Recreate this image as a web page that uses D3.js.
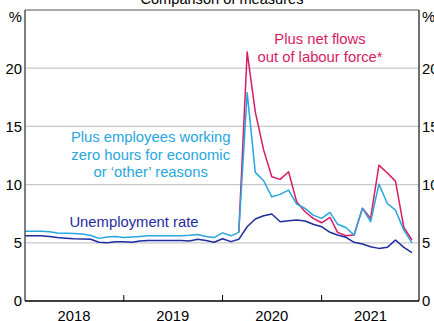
<!DOCTYPE html>
<html><head><meta charset="utf-8">
<script src="https://cdn.jsdelivr.net/npm/d3@7"></script>
<style>
html,body{margin:0;padding:0;background:#fff;}
svg{display:block;font-family:"Liberation Sans",Arial,sans-serif;}
</style></head>
<body><svg id="c" width="434" height="321"></svg>
<script>
const months = ["2018-01","2018-02","2018-03","2018-04","2018-05","2018-06","2018-07","2018-08","2018-09","2018-10","2018-11","2018-12",
"2019-01","2019-02","2019-03","2019-04","2019-05","2019-06","2019-07","2019-08","2019-09","2019-10","2019-11","2019-12",
"2020-01","2020-02","2020-03","2020-04","2020-05","2020-06","2020-07","2020-08","2020-09","2020-10","2020-11","2020-12",
"2021-01","2021-02","2021-03","2021-04","2021-05","2021-06","2021-07","2021-08","2021-09","2021-10","2021-11","2021-12"];
const unemployment = [5.6,5.6,5.6,5.55,5.45,5.4,5.35,5.32,5.3,5.05,5.0,5.1,
5.1,5.05,5.15,5.2,5.2,5.2,5.2,5.2,5.15,5.3,5.2,5.05,
5.35,5.1,5.3,6.38,7.04,7.32,7.47,6.81,6.9,6.95,6.87,6.6,
6.38,5.9,5.67,5.47,5.04,4.89,4.66,4.52,4.61,5.24,4.61,4.15];
const zeroHours = [6.0,6.0,6.0,5.95,5.85,5.82,5.8,5.75,5.62,5.38,5.5,5.55,
5.45,5.5,5.55,5.6,5.6,5.6,5.6,5.6,5.65,5.72,5.55,5.45,
5.85,5.6,5.9,17.9,11.05,10.33,8.95,9.16,9.53,8.33,7.96,7.38,
7.1,7.61,6.6,6.32,5.67,7.96,6.81,10.04,8.38,7.81,6.09,5.0];
const netFlows = [null,null,null,null,null,null,null,null,null,null,null,null,
null,null,null,null,null,null,null,null,null,null,null,null,
null,null,5.9,21.4,16.25,12.96,10.67,10.45,11.1,8.52,7.67,7.1,
6.72,7.18,5.9,5.6,5.67,7.96,7.1,11.67,11.0,10.3,6.32,5.24];
const yTicks = [0,5,10,15,20];
const yearLabels = ["2018","2019","2020","2021"];
const yearBoundaries = ["2019-01-01","2020-01-01","2021-01-01"];

const svg = d3.select("#c");
const L = 25, R = 419, T = 10, B = 301;
const parse = d3.timeParse("%Y-%m");
const dates = months.map(parse);
const x = d3.scaleTime().domain([new Date(2018,0,1), new Date(2021,11,27)]).range([L, R]);
const y = d3.scaleLinear().domain([0,25]).range([B, T]);
const FS = "14.8px";

// gridlines
svg.append("g").selectAll("line").data(yTicks.filter(d=>d>0)).join("line")
  .attr("x1", L).attr("x2", R).attr("y1", d=>y(d)).attr("y2", d=>y(d))
  .attr("stroke", "#c8c8c8").attr("stroke-width", 1.3);

// left/right tick labels
svg.append("g").selectAll("text").data(yTicks).join("text")
  .attr("x", 22).attr("y", d=>y(d)).attr("dy","0.36em").attr("text-anchor","end")
  .attr("font-size", FS).attr("fill","#000").text(d=>d);
svg.append("g").selectAll("text").data(yTicks).join("text")
  .attr("x", 422).attr("y", d=>y(d)).attr("dy","0.36em").attr("text-anchor","start")
  .attr("font-size", FS).attr("fill","#000").text(d=>d);
svg.append("text").attr("x",22).attr("y",22).attr("text-anchor","end").attr("font-size",FS).text("%");
svg.append("text").attr("x",422).attr("y",22).attr("text-anchor","start").attr("font-size",FS).text("%");

// title (partly cut at top)
svg.append("text").attr("x",(L+R)/2).attr("y",4).attr("text-anchor","middle").attr("font-size","14.6px").text("Comparison of measures");

// year labels
const yearDates = yearLabels.map(s => new Date(+s, 6, 1));
svg.append("g").selectAll("text").data(yearLabels).join("text")
  .attr("x", (d,i)=>x(yearDates[i])).attr("y", 320.6).attr("text-anchor","middle")
  .attr("font-size", FS).text(d=>d);

// lines
const mk = vals => d3.line().defined((d,i)=>vals[i]!=null)
  .x((d,i)=>x(dates[i])).y((d,i)=>y(vals[i]));
const series = [
  {vals: netFlows, color: "#d81b66"},
  {vals: zeroHours, color: "#27a6de"},
  {vals: unemployment, color: "#1f2b9e"}
];
series.forEach(s => {
  svg.append("path").attr("d", mk(s.vals)(s.vals)).attr("fill","none")
    .attr("stroke", s.color).attr("stroke-width", 1.5).attr("stroke-linejoin","round");
});

// frame
svg.append("line").attr("x1",L).attr("x2",R).attr("y1",T).attr("y2",T).attr("stroke","#555").attr("stroke-width",1.2);
svg.append("line").attr("x1",L).attr("x2",L).attr("y1",T).attr("y2",B).attr("stroke","#555").attr("stroke-width",1.5);
svg.append("line").attr("x1",R).attr("x2",R).attr("y1",T).attr("y2",B).attr("stroke","#222").attr("stroke-width",1.3);
svg.append("line").attr("x1",L).attr("x2",R).attr("y1",B).attr("y2",B).attr("stroke","#000").attr("stroke-width",1.5);
// x ticks (inside)
svg.append("g").selectAll("line").data(yearBoundaries).join("line")
  .attr("x1", d=>x(new Date(d))).attr("x2", d=>x(new Date(d)))
  .attr("y1", B).attr("y2", B-6).attr("stroke","#000").attr("stroke-width",1);

// annotations
const ann = [
  {lines:["Plus net flows","out of labour force*"], x:320, y:44, color:"#d81b66"},
  {lines:["Plus employees working","zero hours for economic","or \u2018other\u2019 reasons"], x:150.7, y:142.3, color:"#27a6de"},
  {lines:["Unemployment rate"], x:134, y:227, color:"#1f2b9e"}
];
ann.forEach(a => {
  const t = svg.append("text").attr("text-anchor","middle").attr("font-size",FS).attr("fill",a.color);
  a.lines.forEach((ln,i) => t.append("tspan").attr("x",a.x).attr("y",a.y + i*17.5).text(ln));
});
</script></body></html>
